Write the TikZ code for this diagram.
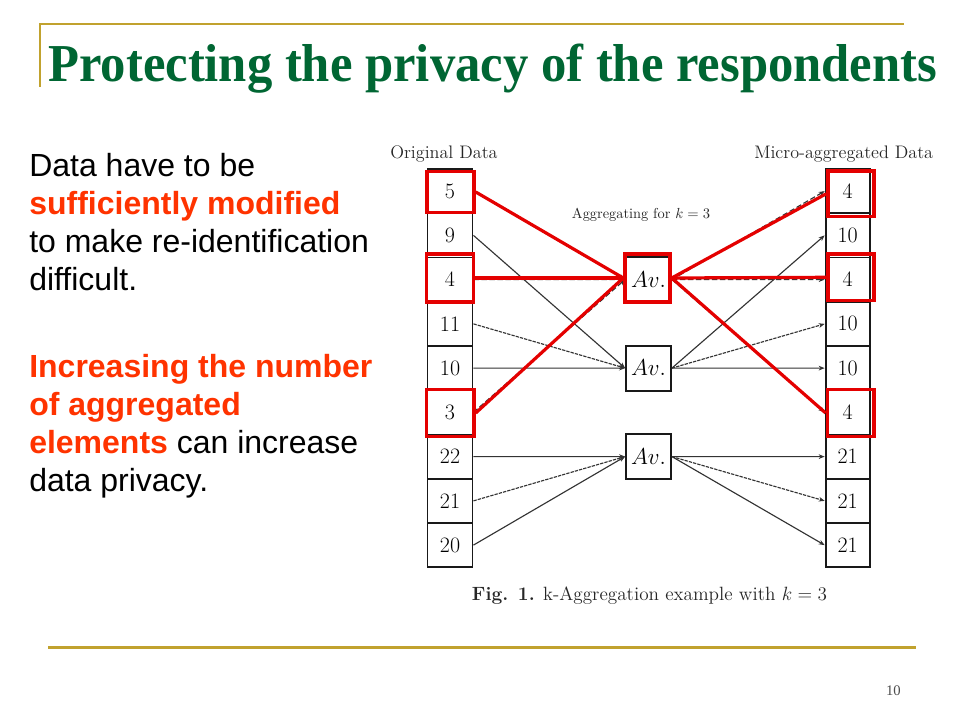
\documentclass[tikz,border=0pt]{standalone}
\usepackage{fontspec}
\newfontfamily\sansbody{Liberation Sans}
\newfontfamily\serifttl{Liberation Serif}
\usetikzlibrary{arrows.meta}
\definecolor{goldline}{RGB}{193,162,46}
\definecolor{ttlgreen}{RGB}{0,102,51}
\definecolor{hlorange}{RGB}{255,51,0}
\definecolor{redmark}{RGB}{228,0,0}
\tikzset{
  txt/.style={inner sep=0pt, anchor=base west},
  bodytxt/.style={txt, font=\sansbody\fontsize{24}{28}\selectfont},
  cell/.style={draw=black!90, line width=1.4pt, minimum width=33.75pt, minimum height=33.19pt, inner sep=0pt, font=\fontsize{16.5}{16.5}\selectfont},
  avbox/.style={cell, minimum height=33.75pt, font=\fontsize{17.5}{17.5}\selectfont},
  redbox/.style={draw=redmark, line width=2.6pt, inner sep=0pt},
  redline/.style={draw=redmark, line width=2.4pt},
  link/.style={draw=black!80, line width=0.85pt, -{Stealth[length=4.5pt,width=3.5pt]}},
  dlink/.style={link, dash pattern=on 4pt off 2pt},
  tlink/.style={link, dash pattern=on 2.5pt off 0.8pt},
}
\begin{document}
\begin{tikzpicture}[x=0.75pt,y=-0.75pt]
\useasboundingbox (0,0) rectangle (960,720);
% frame lines
\draw[goldline, line width=1.5pt] (40,87) -- (40,24) -- (904,24);
\draw[goldline, line width=1.8pt] (48,647.5) -- (916,647.5);
% title
\node[txt, font=\serifttl\bfseries\fontsize{40}{44}\selectfont, text=ttlgreen] (title) at (48,82) {\scalebox{0.95}[1]{Protecting the privacy of the respondents}};
% left text
\node[bodytxt] (t1) at (29,177) {Data have to be};
\node[bodytxt, text=hlorange, font=\sansbody\bfseries\fontsize{24}{28}\selectfont] (t2) at (29,215) {sufficiently modified};
\node[bodytxt] (t3) at (29,253) {to make re-identification};
\node[bodytxt] (t4) at (29,291) {difficult.};
\node[bodytxt, text=hlorange, font=\sansbody\bfseries\fontsize{24}{28}\selectfont] (t5) at (29,377) {Increasing the number};
\node[bodytxt, text=hlorange, font=\sansbody\bfseries\fontsize{24}{28}\selectfont] (t6) at (29,415) {of aggregated};
\node[bodytxt] (t7) at (29,453) {\textcolor{hlorange}{\bfseries elements} can increase};
\node[bodytxt] (t8) at (29,491) {data privacy.};
% figure labels
\node[txt, font=\fontsize{13.6}{15}\selectfont, text=black!85] (orig) at (390,158.3) {Original Data};
\node[txt, font=\fontsize{13.6}{15}\selectfont, text=black!85] (micro) at (754,158.3) {Micro-aggregated Data};
\node[txt, font=\fontsize{10.8}{12}\selectfont, text=black!85] (aggk) at (571.7,218.3) {Aggregating for $k=3$};
\node[txt, font=\fontsize{14.4}{16}\selectfont, text=black!85] (caption) at (471.7,600) {\textbf{Fig. 1.} k-Aggregation example with $k=3$};
% cells
\foreach \v [count=\i] in {5,9,4,11,10,3,22,21,20}
  \node[cell] (L\i) at (450,{169+(\i-0.5)*44.25}) {\v};
\foreach \v [count=\i] in {4,10,4,10,10,4,21,21,21}
  \node[cell, minimum width=33pt] (R\i) at (847.6,{169+(\i-0.5)*44.25}) {\v};
\node[avbox] (A1) at (648.5,279.6) {$Av.$};
\node[avbox] (A2) at (648.5,368.1) {$Av.$};
\node[avbox] (A3) at (648.5,456.6) {$Av.$};
% links
\foreach \i in {1,3,6} {
  \draw[dlink] (L\i.east) -- (A1.west);
  \draw[dlink] (A1.east) -- (R\i.west);
}
\draw[link] (L2.east) -- (A2.west);
\draw[tlink] (L4.east) -- (A2.west);
\draw[link] (L5.east) -- (A2.west);
\draw[link] (A2.east) -- (R2.west);
\draw[tlink] (A2.east) -- (R4.west);
\draw[link] (A2.east) -- (R5.west);
\draw[link] (L7.east) -- (A3.west);
\draw[tlink] (L8.east) -- (A3.west);
\draw[link] (L9.east) -- (A3.west);
\draw[link] (A3.east) -- (R7.west);
\draw[tlink] (A3.east) -- (R8.west);
\draw[link] (A3.east) -- (R9.west);
% red highlights
\node[redbox, minimum width=35.25pt, minimum height=30.4pt] (rb5) at (450.5,192) {};
\node[redbox, minimum width=34.9pt, minimum height=35.8pt] (rb4l) at (450,278) {};
\node[redbox, minimum width=35.5pt, minimum height=35.5pt] (rb3) at (450.3,413) {};
\node[redbox, minimum width=33.75pt, minimum height=35.8pt] (rbav) at (647.5,278) {};
\node[redbox, minimum width=34.7pt, minimum height=34.3pt] (rb4a) at (851,193.8) {};
\node[redbox, minimum width=34.7pt, minimum height=35pt] (rb4b) at (851,277.3) {};
\node[redbox, minimum width=35pt, minimum height=35.5pt] (rb4c) at (850.7,413) {};
\draw[redline] (rb5.east) -- (rbav.west);
\draw[redline] (rb4l.east) -- (rbav.west);
\draw[redline] (rb3.east) -- (rbav.west);
\draw[redline] (rbav.east) -- (rb4a.west);
\draw[redline] (rbav.east) -- (rb4b.west);
\draw[redline] (rbav.east) -- (rb4c.west);
% page number
\node[inner sep=0pt, anchor=base east, font=\serifttl\fontsize{11}{12}\selectfont, text=black!70] (pnum) at (901,695) {10};
\end{tikzpicture}
\end{document}
